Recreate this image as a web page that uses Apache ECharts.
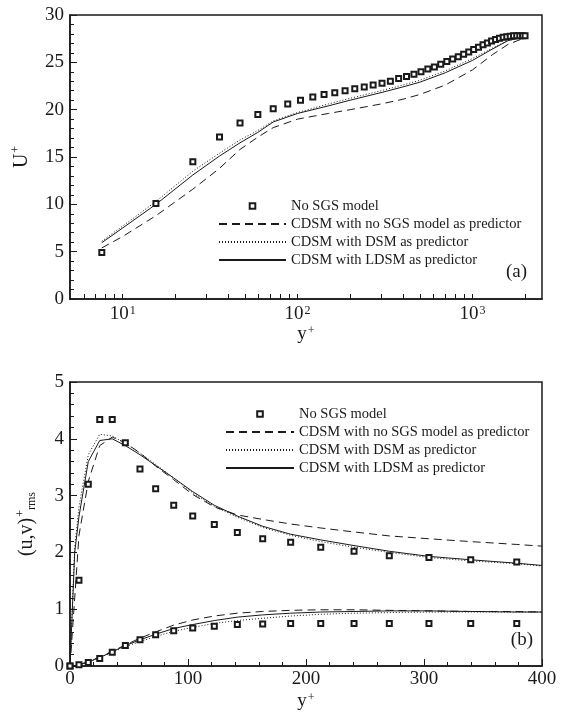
<!DOCTYPE html>
<html><head><meta charset="utf-8">
<script src="https://cdn.jsdelivr.net/npm/echarts@6/dist/echarts.min.js"></script>
<style>html,body{margin:0;padding:0;background:#fff}#c{width:561px;height:717px}</style>
</head><body><div id="c"></div>
<script>
// ---------- panel (a): mean velocity U+ vs y+ (log) ----------
const yPlusTopSq = [7.6, 15.5, 25.2, 35.8, 46.9, 59.3, 72.6, 87.9, 104, 122.3, 141.8, 163.3, 187, 212.5, 240.7, 270.6, 304.2, 339.6, 378.6, 420, 463, 508, 556, 606, 659, 714, 771, 830, 891, 953, 1017, 1083, 1150, 1218, 1287, 1357, 1428, 1500, 1572, 1645, 1718, 1792, 1866, 1935, 2000];
const uPlusNoSGS = [4.9, 10.1, 14.5, 17.1, 18.6, 19.5, 20.1, 20.6, 21.0, 21.35, 21.6, 21.8, 22.0, 22.2, 22.4, 22.6, 22.8, 23.0, 23.3, 23.5, 23.75, 24.0, 24.3, 24.5, 24.8, 25.1, 25.35, 25.6, 25.85, 26.1, 26.35, 26.6, 26.85, 27.05, 27.25, 27.4, 27.55, 27.65, 27.7, 27.75, 27.8, 27.8, 27.8, 27.8, 27.8];
const yPlusTopLine = [7.6, 10, 15.5, 25.2, 35.8, 46.9, 59.3, 72.6, 100, 150, 200, 300, 400, 500, 700, 1000, 1300, 1600, 2000];
const uPlusCdsmNoSGS = [5.4, 6.6, 8.8, 11.6, 13.8, 15.8, 17.1, 18.1, 19.0, 19.6, 20.0, 20.6, 21.1, 21.6, 22.6, 24.2, 25.8, 26.9, 27.6];
const uPlusCdsmDSM = [6.1, 7.7, 10.3, 13.5, 15.4, 16.8, 17.8, 18.8, 19.7, 20.6, 21.2, 22.0, 22.6, 23.1, 24.1, 25.4, 26.5, 27.3, 27.7];
const uPlusCdsmLDSM = [5.95, 7.5, 10.0, 13.1, 15.1, 16.5, 17.6, 18.7, 19.6, 20.4, 21.0, 21.8, 22.4, 22.9, 23.9, 25.2, 26.4, 27.3, 27.7];
const logLabelValues = [10, 100, 1000];
const logTickValues = [6, 7, 8, 9, 10, 20, 30, 40, 50, 60, 70, 80, 90, 100, 200, 300, 400, 500, 600, 700, 800, 900, 1000, 2000];

// ---------- panel (b): rms fluctuations vs y+ (linear) ----------
const yPlusBotSq = [0, 7.6, 15.5, 25.2, 35.8, 46.9, 59.3, 72.6, 87.9, 104, 122.3, 141.8, 163.3, 187, 212.5, 240.7, 270.6, 304.2, 339.6, 378.6];
const urmsNoSGS = [0, 1.51, 3.2, 4.34, 4.34, 3.93, 3.47, 3.12, 2.83, 2.64, 2.49, 2.35, 2.24, 2.18, 2.09, 2.02, 1.94, 1.91, 1.87, 1.83];
const vrmsNoSGS = [0, 0.02, 0.06, 0.13, 0.24, 0.36, 0.46, 0.55, 0.62, 0.67, 0.70, 0.73, 0.74, 0.75, 0.75, 0.75, 0.75, 0.75, 0.75, 0.75];
const yPlusBotLine = [0, 4, 7.6, 15.5, 25.2, 35.8, 46.9, 59.3, 72.6, 87.9, 104, 122.3, 141.8, 163.3, 187, 212.5, 240.7, 270.6, 304.2, 339.6, 378.6, 400];
const urmsCdsmNoSGS = [0, 1.2, 2.3, 3.25, 3.88, 4.03, 3.93, 3.75, 3.52, 3.28, 3.02, 2.8, 2.66, 2.58, 2.5, 2.43, 2.36, 2.29, 2.24, 2.19, 2.14, 2.11];
const urmsCdsmDSM = [0, 2.1, 2.8, 3.72, 4.08, 4.05, 3.92, 3.75, 3.55, 3.31, 3.05, 2.81, 2.62, 2.44, 2.3, 2.19, 2.09, 2.0, 1.91, 1.85, 1.8, 1.76];
const urmsCdsmLDSM = [0, 2.0, 2.63, 3.6, 3.97, 4.0, 3.88, 3.72, 3.53, 3.31, 3.07, 2.83, 2.64, 2.46, 2.32, 2.22, 2.12, 2.02, 1.93, 1.87, 1.81, 1.77];
const vrmsCdsmNoSGS = [0, 0.005, 0.02, 0.08, 0.16, 0.26, 0.37, 0.49, 0.6, 0.72, 0.81, 0.88, 0.93, 0.96, 0.98, 0.99, 0.99, 0.98, 0.97, 0.96, 0.96, 0.95];
const vrmsCdsmDSM = [0, 0.005, 0.02, 0.07, 0.15, 0.24, 0.34, 0.43, 0.52, 0.61, 0.68, 0.75, 0.8, 0.84, 0.88, 0.91, 0.93, 0.94, 0.95, 0.95, 0.95, 0.95];
const vrmsCdsmLDSM = [0, 0.005, 0.02, 0.07, 0.15, 0.25, 0.36, 0.46, 0.56, 0.66, 0.73, 0.8, 0.86, 0.9, 0.93, 0.95, 0.96, 0.97, 0.97, 0.96, 0.95, 0.95];

const seriesNames = ['No SGS model', 'CDSM with no SGS model as predictor', 'CDSM with DSM as predictor', 'CDSM with LDSM as predictor'];
const panelTags = ['(a)', '(b)'];

const FONT = 'Liberation Serif';
const INK = '#1a1a1a';
const CLEAR = 'rgba(0,0,0,0)';
const zip = (xs, ys) => xs.map((x, i) => [x, ys[i]]);

function dashFor(k) { return k === 1 ? [8, 5] : (k === 2 ? [1, 2] : 'solid'); }
function curve(name, xi, yi, data, k) {
  return {
    name, type: 'line', xAxisIndex: xi, yAxisIndex: yi, data,
    symbol: 'none', showSymbol: false, smooth: false,
    lineStyle: { color: INK, width: 1, type: dashFor(k) },
    itemStyle: { color: INK }
  };
}
function squares(name, xi, yi, data) {
  return {
    name, type: 'line', xAxisIndex: xi, yAxisIndex: yi, data,
    symbol: 'emptyRect', symbolSize: 5, showAllSymbol: true,
    lineStyle: { width: 0, color: INK },
    itemStyle: { color: INK, borderWidth: 1 }
  };
}
function rich() {
  return {
    b: { fontFamily: FONT, fontSize: 19, color: INK },
    s: { fontFamily: FONT, fontSize: 12, color: INK, verticalAlign: 'top', padding: [0, 0, 0, 1] },
    n: { fontFamily: FONT, fontSize: 20, color: INK },
    p: { fontFamily: FONT, fontSize: 12, color: INK, padding: [0, 0, 12, 1] },
    r: { fontFamily: FONT, fontSize: 12, color: INK, padding: [10, 0, 0, 0] }
  };
}
function legendData() {
  return seriesNames.map((n, i) => i === 0 ? { name: n } : { name: n, itemStyle: { color: CLEAR, borderColor: CLEAR } });
}

const option = {
  backgroundColor: '#fff',
  animation: false,
  grid: [
    { left: 70, top: 15, width: 472, height: 284, show: true, borderColor: INK, borderWidth: 1.5 },
    { left: 70, top: 382, width: 472, height: 284, show: true, borderColor: INK, borderWidth: 1.5 }
  ],
  title: [
    { text: panelTags[0], right: 34, top: 263, padding: 0, textStyle: { fontFamily: FONT, fontSize: 19, fontWeight: 'normal', color: INK } },
    { text: panelTags[1], right: 28, top: 631, padding: 0, textStyle: { fontFamily: FONT, fontSize: 19, fontWeight: 'normal', color: INK } }
  ],
  xAxis: [
    {
      type: 'log', gridIndex: 0, min: 5, max: 2500,
      axisLine: { show: true, lineStyle: { color: INK, width: 1.5 } },
      axisTick: { show: true, inside: true, length: 5, customValues: logTickValues, lineStyle: { color: INK } },
      axisLabel: {
        show: true, customValues: logLabelValues, margin: 6,
        formatter: v => '{b|10}{s|' + Math.round(Math.log10(v)) + '}', rich: rich()
      },
      splitLine: { show: false },
      name: '{b|y}{s|+}', nameLocation: 'middle', nameGap: 24,
      nameTextStyle: { rich: rich(), fontFamily: FONT, fontSize: 19, color: INK }
    },
    {
      type: 'value', gridIndex: 1, min: 0, max: 400, interval: 100,
      axisLine: { show: true, lineStyle: { color: INK, width: 1.5 } },
      axisTick: { show: true, inside: true, length: 7, lineStyle: { color: INK } },
      minorTick: { show: true, splitNumber: 5, length: 4, lineStyle: { color: INK } },
      axisLabel: { margin: 4, fontFamily: FONT, fontSize: 19, color: INK },
      splitLine: { show: false }, minorSplitLine: { show: false },
      name: '{b|y}{s|+}', nameLocation: 'middle', nameGap: 26,
      nameTextStyle: { rich: rich(), fontFamily: FONT, fontSize: 19, color: INK }
    }
  ],
  yAxis: [
    {
      type: 'value', gridIndex: 0, min: 0, max: 30, interval: 5,
      axisLine: { show: true, lineStyle: { color: INK, width: 1.5 } },
      axisTick: { show: true, inside: true, length: 7, lineStyle: { color: INK } },
      minorTick: { show: true, splitNumber: 5, length: 4, lineStyle: { color: INK } },
      axisLabel: { margin: 6, fontFamily: FONT, fontSize: 19, color: INK },
      splitLine: { show: false }, minorSplitLine: { show: false },
      name: '{n|U}{p|+}', nameLocation: 'middle', nameGap: 36, nameRotate: 90,
      nameTextStyle: { rich: rich(), fontFamily: FONT, fontSize: 20, color: INK }
    },
    {
      type: 'value', gridIndex: 1, min: 0, max: 5, interval: 1,
      axisLine: { show: true, lineStyle: { color: INK, width: 1.5 } },
      axisTick: { show: true, inside: true, length: 7, lineStyle: { color: INK } },
      minorTick: { show: true, splitNumber: 5, length: 4, lineStyle: { color: INK } },
      axisLabel: { margin: 6, fontFamily: FONT, fontSize: 19, color: INK },
      splitLine: { show: false }, minorSplitLine: { show: false },
      name: '{n|(u,v)}{p|+}{r|rms}', nameLocation: 'middle', nameGap: 31, nameRotate: 90,
      nameTextStyle: { rich: rich(), fontFamily: FONT, fontSize: 20, color: INK }
    }
  ],
  legend: [
    {
      orient: 'vertical', left: 213, top: 193, itemWidth: 67, itemHeight: 7, itemGap: 2,
      selectedMode: false, data: legendData(),
      textStyle: { fontFamily: FONT, fontSize: 14.5, color: INK, lineHeight: 16 }
    },
    {
      orient: 'vertical', left: 220, top: 401, itemWidth: 68, itemHeight: 7, itemGap: 2,
      selectedMode: false, data: legendData(),
      textStyle: { fontFamily: FONT, fontSize: 14.5, color: INK, lineHeight: 16 }
    }
  ],
  series: [
    curve(seriesNames[1], 0, 0, zip(yPlusTopLine, uPlusCdsmNoSGS), 1),
    curve(seriesNames[2], 0, 0, zip(yPlusTopLine, uPlusCdsmDSM), 2),
    curve(seriesNames[3], 0, 0, zip(yPlusTopLine, uPlusCdsmLDSM), 3),
    squares(seriesNames[0], 0, 0, zip(yPlusTopSq, uPlusNoSGS)),
    curve(seriesNames[1], 1, 1, zip(yPlusBotLine, urmsCdsmNoSGS), 1),
    curve(seriesNames[2], 1, 1, zip(yPlusBotLine, urmsCdsmDSM), 2),
    curve(seriesNames[3], 1, 1, zip(yPlusBotLine, urmsCdsmLDSM), 3),
    curve(seriesNames[1], 1, 1, zip(yPlusBotLine, vrmsCdsmNoSGS), 1),
    curve(seriesNames[2], 1, 1, zip(yPlusBotLine, vrmsCdsmDSM), 2),
    curve(seriesNames[3], 1, 1, zip(yPlusBotLine, vrmsCdsmLDSM), 3),
    squares(seriesNames[0], 1, 1, zip(yPlusBotSq, urmsNoSGS)),
    squares(seriesNames[0], 1, 1, zip(yPlusBotSq, vrmsNoSGS))
  ]
};
const chart = echarts.init(document.getElementById('c'));
chart.setOption(option);
</script>
</body></html>
